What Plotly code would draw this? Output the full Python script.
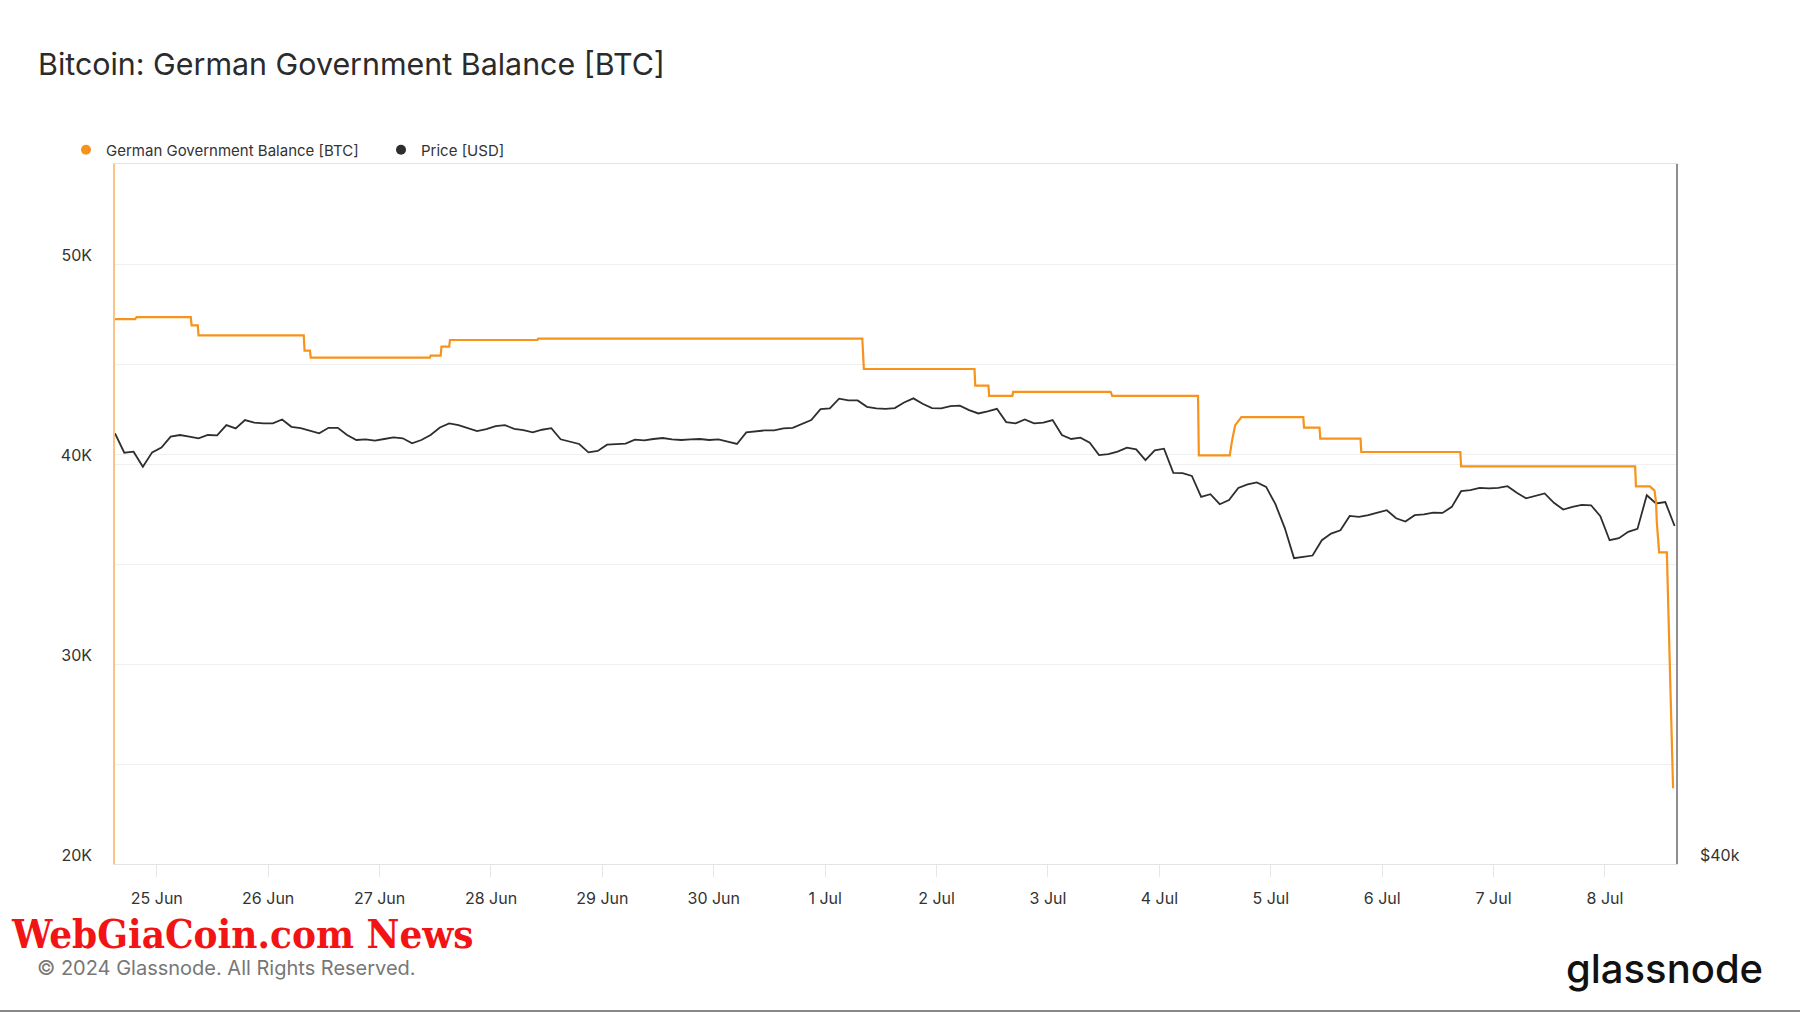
import plotly.graph_objects as go
import pandas as pd

# ---------------- data ----------------
bal_time = [
    "2024-06-24 15:00", "2024-06-24 19:20", "2024-06-24 19:40",
    "2024-06-25 07:20", "2024-06-25 07:30",
    "2024-06-25 08:50", "2024-06-25 09:00",
    "2024-06-26 07:40", "2024-06-26 07:50",
    "2024-06-26 09:00", "2024-06-26 09:10",
    "2024-06-27 10:50", "2024-06-27 11:00",
    "2024-06-27 13:10", "2024-06-27 13:20",
    "2024-06-27 15:00", "2024-06-27 15:10",
    "2024-06-28 10:00", "2024-06-28 10:10",
    "2024-07-01 08:00", "2024-07-01 08:20",
    "2024-07-02 08:10", "2024-07-02 08:20",
    "2024-07-02 11:10", "2024-07-02 11:20",
    "2024-07-02 16:20", "2024-07-02 16:30",
    "2024-07-03 13:30", "2024-07-03 13:50",
    "2024-07-04 08:20", "2024-07-04 08:30",
    "2024-07-04 15:10", "2024-07-04 15:40", "2024-07-04 16:20",
    "2024-07-04 17:00", "2024-07-04 17:40",
    "2024-07-05 07:00", "2024-07-05 07:10",
    "2024-07-05 10:30", "2024-07-05 10:40",
    "2024-07-05 19:20", "2024-07-05 19:30",
    "2024-07-06 16:50", "2024-07-06 17:00",
    "2024-07-08 06:30", "2024-07-08 06:40",
    "2024-07-08 09:40", "2024-07-08 10:40", "2024-07-08 11:00",
    "2024-07-08 11:10", "2024-07-08 11:40",
    "2024-07-08 13:20", "2024-07-08 13:40", "2024-07-08 14:40",
]
bal_btc = [
    47240, 47240, 47340,
    47340, 46930,
    46930, 46430,
    46430, 45670,
    45670, 45320,
    45320, 45420,
    45420, 45870,
    45870, 46200,
    46200, 46270,
    46270, 44750,
    44750, 43920,
    43920, 43410,
    43410, 43610,
    43610, 43410,
    43410, 40430,
    40430, 41180, 41940,
    42140, 42340,
    42340, 41820,
    41820, 41270,
    41270, 40600,
    40600, 39880,
    39880, 38880,
    38880, 38670, 38090,
    37090, 35580,
    35580, 32570, 23790,
]

price_start = "2024-06-24 15:00"   # one reading every 2 hours
price_usd = [
    61270, 60110, 60170, 59280, 60130, 60420, 61070, 61170, 61070, 60970,
    61170, 61150, 61770, 61570, 62080, 61920, 61880, 61880, 62120, 61670,
    61590, 61430, 61270, 61610, 61610, 61170, 60870, 60910, 60830, 60930,
    61030, 60970, 60670, 60870, 61170, 61630, 61880, 61770, 61570, 61410,
    61530, 61710, 61770, 61550, 61470, 61330, 61490, 61590, 60910, 60770,
    60630, 60130, 60210, 60590, 60630, 60650, 60890, 60850, 60930, 60990,
    60910, 60870, 60910, 60930, 60870, 60910, 60770, 60630, 61330, 61410,
    61450, 61450, 61570, 61610, 61840, 62080, 62760, 62800, 63410, 63300,
    63300, 62900, 62800, 62780, 62820, 63170, 63430, 63090, 62820, 62800,
    62940, 62980, 62700, 62490, 62620, 62780, 61960, 61880, 62120, 61880,
    61920, 62080, 61170, 60930, 61010, 60710, 59970, 60030, 60170, 60410,
    60310, 59670, 60250, 60350, 58920, 58900, 58740, 57540, 57690, 57120,
    57350, 58050, 58250, 58370, 58110, 57120, 55800, 54150, 54220, 54290,
    55120, 55480, 55660, 56460, 56410, 56500, 56650, 56780, 56330, 56150,
    56500, 56550, 56650, 56630, 56970, 57860, 57920, 58050, 58020, 58050,
    58150, 57770, 57450, 57580, 57730, 57200, 56820, 56970, 57080, 57060,
    56450, 55120, 55230, 55580, 55740, 57630, 57160, 57240, 55900,
]
price_time = pd.date_range(price_start, periods=len(price_usd), freq="2h")

btc_ticks = [20000, 30000, 40000, 50000]
btc_ticktext = ["20K", "30K", "40K", "50K"]
usd_ticks = [40000, 60000, 80000]
usd_ticktext = ["$40k", "", ""]

# ---------------- style ----------------
ORANGE = "#F7931A"
DARK = "#2e2e2e"
GRID = "#efefef"
FONT = "Inter"

W, H = 1800, 1013
L, R, T, B = 115, 124, 164, 149
PW, PH = W - L - R, H - T - B


def px_x(px):
    return (px - L) / PW


def px_y(py):
    return (H - B - py) / PH


fig = go.Figure()

fig.add_trace(go.Scatter(
    x=price_time, y=price_usd, mode="lines", yaxis="y",
    line=dict(color=DARK, width=1.8), showlegend=False, name="Price [USD]",
))
fig.add_trace(go.Scatter(
    x=bal_time, y=bal_btc, mode="lines", yaxis="y2",
    line=dict(color=ORANGE, width=2.2), showlegend=False,
    name="German Government Balance [BTC]",
))
# legend entries (dot symbols)
fig.add_trace(go.Scatter(
    x=[None], y=[None], mode="markers", yaxis="y2",
    marker=dict(color=ORANGE, size=10), name="German Government Balance [BTC]",
))
fig.add_trace(go.Scatter(
    x=[None], y=[None], mode="markers", yaxis="y",
    marker=dict(color=DARK, size=10), name="Price [USD]",
))

fig.update_layout(
    width=W, height=H,
    margin=dict(l=L, r=R, t=T, b=B, autoexpand=False),
    paper_bgcolor="white", plot_bgcolor="white",
    font=dict(family=FONT, color="#333333", size=16),
    title=dict(
        text="Bitcoin: German Government Balance [BTC]",
        x=38 / W, xref="container", xanchor="left",
        y=1 - 64 / H, yref="container", yanchor="middle",
        font=dict(family=FONT, size=30.4, color="#2b2b2b"),
    ),
    legend=dict(
        orientation="h", x=66 / W, xref="container", xanchor="left",
        y=1 - 150 / H, yref="container", yanchor="middle",
        font=dict(family=FONT, size=15, color="#333333"),
        itemwidth=30, entrywidth=270, bgcolor="rgba(0,0,0,0)",
        tracegroupgap=0,
    ),
    xaxis=dict(
        type="date",
        range=["2024-06-24 15:00", "2024-07-08 15:18"],
        tick0="2024-06-25", dtick=86400000,
        tickformat="%-d %b",
        showgrid=False,
        showline=True, linecolor="#e3e3e3", linewidth=1, mirror=True,
        ticks="outside", ticklen=12, tickcolor="#e6e6e6", tickwidth=1,
        ticklabelstandoff=8,
        tickfont=dict(size=16, color="#333333"),
        zeroline=False,
    ),
    yaxis=dict(
        type="log", side="right",
        range=[4.60206, 4.90309],
        tickvals=usd_ticks, ticktext=usd_ticktext,
        showgrid=True, gridcolor=GRID, gridwidth=1,
        showline=True, linecolor="#8f8f8f", linewidth=1.5,
        ticks="", ticklabelstandoff=19, ticklabelshift=-9,
        tickfont=dict(size=16, color="#333333"),
        zeroline=False,
    ),
    yaxis2=dict(
        overlaying="y", side="left",
        range=[20000, 55000],
        tickvals=btc_ticks, ticktext=btc_ticktext,
        showgrid=True, gridcolor=GRID, gridwidth=1,
        minor=dict(dtick=5000, tick0=0, showgrid=True, gridcolor=GRID, gridwidth=1),
        showline=True, linecolor="rgba(247,147,26,0.55)", linewidth=1.5,
        ticks="", ticklabelstandoff=18, ticklabelshift=-9,
        tickfont=dict(size=16, color="#333333"),
        zeroline=False,
    ),
    annotations=[
        dict(text="<b>WebGiaCoin.com News</b>", xref="paper", yref="paper",
             x=px_x(9), y=px_y(933), xanchor="left", yanchor="middle",
             showarrow=False,
             font=dict(family="DejaVu Serif Condensed", size=40, color="#f21414")),
        dict(text="© 2024 Glassnode. All Rights Reserved.", xref="paper", yref="paper",
             x=px_x(35), y=px_y(968), xanchor="left", yanchor="middle",
             showarrow=False,
             font=dict(family=FONT, size=20, color="#777777")),
        dict(text="glassnode", xref="paper", yref="paper",
             x=px_x(1765), y=px_y(968), xanchor="right", yanchor="middle",
             showarrow=False,
             font=dict(family=FONT, size=40, color="#111111", weight=500)),
    ],
    shapes=[
        dict(type="line", xref="paper", yref="paper",
             x0=px_x(0), x1=px_x(W), y0=px_y(1011), y1=px_y(1011),
             line=dict(color="#888888", width=2)),
    ],
)

fig.write_html("out.html")
